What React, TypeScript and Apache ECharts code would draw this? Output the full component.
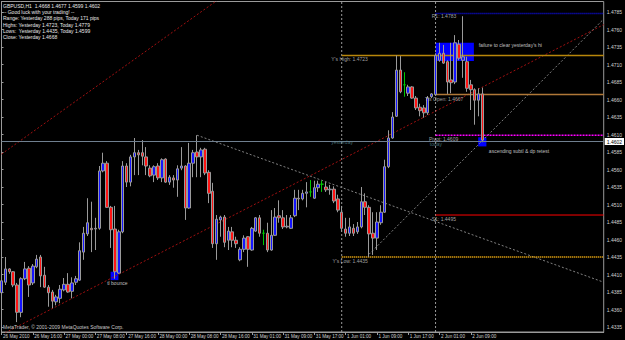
import React, { useEffect, useRef } from 'react';
import * as echarts from 'echarts';

// ---------- data ----------
const tickLabels = ['26 May 2010', '26 May 16:00', '27 May 00:00', '27 May 08:00', '27 May 16:00', '28 May 00:00', '28 May 08:00', '28 May 16:00', '31 May 01:00', '31 May 09:00', '31 May 17:00', '1 Jun 01:00', '1 Jun 09:00', '1 Jun 17:00', '2 Jun 01:00', '2 Jun 09:00'];
const barsPerLabel = 8;
const slotCount = 155;

const open = [1.4384, 1.4399, 1.4418, 1.4414, 1.4395, 1.4356, 1.4404, 1.4419, 1.4398, 1.4421, 1.4435, 1.4409, 1.4392, 1.4385, 1.4371, 1.4376, 1.4388, 1.4396, 1.4386, 1.4399, 1.4402, 1.4442, 1.4468, 1.4476, 1.4475, 1.4476, 1.4558, 1.4569, 1.4506, 1.4475, 1.4412, 1.4471, 1.4565, 1.4542, 1.4578, 1.4584, 1.4584, 1.4578, 1.4562, 1.4552, 1.4565, 1.4548, 1.4575, 1.4542, 1.4548, 1.4545, 1.4562, 1.4565, 1.4505, 1.4569, 1.4585, 1.4578, 1.4589, 1.4556, 1.4529, 1.4454, 1.4488, 1.4492, 1.4459, 1.4471, 1.4459, 1.4431, 1.4446, 1.4464, 1.4445, 1.4472, 1.4491, 1.4469, 1.4469, 1.4445, 1.4466, 1.4494, 1.4491, 1.4478, 1.4476, 1.4494, 1.4519, 1.4518, 1.4526, 1.4528, 1.4519, 1.4534, 1.4539, 1.4535, 1.4531, 1.4532, 1.4518, 1.4499, 1.4475, 1.4469, 1.4476, 1.4471, 1.4478, 1.4514, 1.4506, 1.4469, 1.4462, 1.4484, 1.4499, 1.4564, 1.4605, 1.4636, 1.4702, 1.4681, 1.4669, 1.4678, 1.4662, 1.4649, 1.4648, 1.4641, 1.4664, 1.4667, 1.4716, 1.4726, 1.4714, 1.4688, 1.4685, 1.4739, 1.4716, 1.4714, 1.4681, 1.4674, 1.4659, 1.4668];
const high = [1.4404, 1.4435, 1.4419, 1.4415, 1.4398, 1.4406, 1.4428, 1.4422, 1.4425, 1.4438, 1.4438, 1.4421, 1.4395, 1.4388, 1.4381, 1.4395, 1.4405, 1.4412, 1.4406, 1.4408, 1.4456, 1.4478, 1.4519, 1.4514, 1.4491, 1.4565, 1.4584, 1.4572, 1.4508, 1.4508, 1.4474, 1.4572, 1.4569, 1.4581, 1.4605, 1.4588, 1.4602, 1.4592, 1.4566, 1.4566, 1.4569, 1.4576, 1.4576, 1.4552, 1.4552, 1.4566, 1.4592, 1.4566, 1.4598, 1.4588, 1.4609, 1.4591, 1.4591, 1.4559, 1.4541, 1.4495, 1.4494, 1.4495, 1.4478, 1.4478, 1.4464, 1.4449, 1.4466, 1.4465, 1.4478, 1.4492, 1.4495, 1.4474, 1.4484, 1.4502, 1.4505, 1.4516, 1.4502, 1.4495, 1.4495, 1.4531, 1.4531, 1.4531, 1.4542, 1.4545, 1.4544, 1.4544, 1.4544, 1.4542, 1.4538, 1.4536, 1.4524, 1.4508, 1.4491, 1.4491, 1.4482, 1.4485, 1.4535, 1.4526, 1.4509, 1.4499, 1.4499, 1.4509, 1.4574, 1.4616, 1.4642, 1.4723, 1.4722, 1.4699, 1.4681, 1.4679, 1.4665, 1.4654, 1.4652, 1.4665, 1.4669, 1.4726, 1.4741, 1.4738, 1.4716, 1.4741, 1.4752, 1.4745, 1.4779, 1.4721, 1.4688, 1.4676, 1.4676, 1.4677];
const low = [1.4376, 1.4395, 1.4411, 1.4392, 1.4342, 1.4349, 1.4402, 1.4378, 1.4395, 1.4419, 1.4392, 1.4391, 1.4364, 1.4362, 1.4366, 1.4369, 1.4386, 1.4384, 1.4376, 1.4395, 1.4401, 1.4431, 1.4465, 1.4442, 1.4445, 1.4474, 1.4556, 1.4505, 1.4448, 1.4404, 1.4411, 1.4469, 1.4535, 1.4536, 1.4552, 1.4552, 1.4566, 1.4552, 1.4549, 1.4542, 1.4545, 1.4542, 1.4541, 1.4538, 1.4534, 1.4521, 1.4559, 1.4488, 1.4504, 1.4549, 1.4549, 1.4549, 1.4552, 1.4512, 1.4448, 1.4431, 1.4464, 1.4449, 1.4445, 1.4449, 1.4448, 1.4429, 1.4442, 1.4421, 1.4444, 1.4471, 1.4464, 1.4452, 1.4442, 1.4444, 1.4465, 1.4484, 1.4475, 1.4476, 1.4475, 1.4492, 1.4502, 1.4516, 1.4506, 1.4521, 1.4518, 1.4528, 1.4528, 1.4528, 1.4524, 1.4512, 1.4499, 1.4471, 1.4464, 1.4465, 1.4465, 1.4468, 1.4476, 1.4495, 1.4435, 1.4438, 1.4445, 1.4481, 1.4498, 1.4562, 1.4604, 1.4635, 1.4669, 1.4664, 1.4665, 1.4661, 1.4645, 1.4636, 1.4634, 1.4638, 1.4662, 1.4665, 1.4714, 1.4711, 1.4668, 1.4669, 1.4682, 1.4716, 1.4691, 1.4671, 1.4645, 1.4624, 1.4636, 1.4599];
const close = [1.4401, 1.4418, 1.4414, 1.4395, 1.4356, 1.4404, 1.4418, 1.4395, 1.4422, 1.4432, 1.4408, 1.4392, 1.4384, 1.4372, 1.4378, 1.4389, 1.4396, 1.4385, 1.4398, 1.4404, 1.4444, 1.4469, 1.4484, 1.4474, 1.4476, 1.4558, 1.4569, 1.4506, 1.4474, 1.4414, 1.4471, 1.4565, 1.4542, 1.4578, 1.4584, 1.4581, 1.4579, 1.4565, 1.4551, 1.4564, 1.4548, 1.4574, 1.4542, 1.4549, 1.4545, 1.4561, 1.4565, 1.4505, 1.4569, 1.4584, 1.4578, 1.4588, 1.4555, 1.4526, 1.4454, 1.4489, 1.4492, 1.4456, 1.4472, 1.4459, 1.4454, 1.4446, 1.4462, 1.4446, 1.4476, 1.4491, 1.4469, 1.4469, 1.4445, 1.4466, 1.4492, 1.4491, 1.4478, 1.4479, 1.4491, 1.4519, 1.4518, 1.4526, 1.4528, 1.4528, 1.4534, 1.4539, 1.4539, 1.4531, 1.4532, 1.4515, 1.4502, 1.4476, 1.4469, 1.4478, 1.4469, 1.4478, 1.4514, 1.4506, 1.4468, 1.4462, 1.4485, 1.4499, 1.4564, 1.4605, 1.4635, 1.4702, 1.4671, 1.4681, 1.4678, 1.4662, 1.4648, 1.4644, 1.4641, 1.4662, 1.4668, 1.4723, 1.4726, 1.4712, 1.4685, 1.4684, 1.4741, 1.4719, 1.4721, 1.4676, 1.4674, 1.4659, 1.4668, 1.4602];
const dojiBars = [67, 79, 82, 103];

const priceTicks = [1.4335, 1.4360, 1.4385, 1.4410, 1.4435, 1.4460, 1.4485, 1.4510, 1.4535, 1.4560, 1.4585, 1.4610, 1.4635, 1.4660, 1.4685, 1.4710, 1.4735, 1.4760, 1.4785];
const priceMin = 1.43279;
const priceMax = 1.48;
const bidPrice = 1.4602;

// daily levels: value, first bar
const levelValues = [1.4723, 1.4435, 1.4667, 1.4609, 1.4783, 1.4495];
const levelStartBar = [87, 87, 111, 111, 111, 111];
const separatorBars = [87, 111];

// trendlines [bar, price]
const trendRedLong = [[0, 1.4324], [154, 1.4767]];
const trendRedUpper = [[0, 1.4582], [56, 1.4805]];
const trendGreyDown = [[50, 1.4609], [154, 1.4399]];
const trendGreyUp = [[94, 1.4439], [154, 1.4775]];

// rectangles [barFrom, priceFrom, barTo, priceTo]
const boxes = [[111, 1.4715, 120.8, 1.4741], [121.9, 1.4593, 124, 1.4606], [27.9, 1.4402, 29.9, 1.4414]];

// annotations
const noteTexts = ["Y's High: 1.4723", "Y's Low: 1.4435", "T's Open: 1.4667", 'Pivot: 1.4609', 'today', 'yesterday', 'R1: 1.4783', 'S1: 1.4495', "failure to clear yesterday's hi", 'ascending subtl & dp retest', 'tl bounce'];
const noteBar = [84.2, 84.5, 108.2, 109.2, 109.4, 84.2, 109.9, 109.9, 121.9, 124.5, 26.9];
const notePrice = [1.4718, 1.4430, 1.4661, 1.4604, 1.4597, 1.4599, 1.4779, 1.4490, 1.4738, 1.4587, 1.4398];

const headerLines = ['GBPUSD,H1  1.4668 1.4677 1.4599 1.4602', '-- Good luck with your trading! --', 'Range: Yesterday 288 pips, Today 171 pips', 'Highs: Yesterday 1.4723, Today 1.4779', 'Lows:  Yesterday 1.4435, Today 1.4599', 'Close: Yesterday 1.4668'];
const copyright = 'MetaTrader, \u00a9 2001-2009 MetaQuotes Software Corp.';

// ---------- styles ----------
const FONT = 'Liberation Sans';
const levelStyles = [
  { color: '#b8860b', width: 1.5, type: 'solid' },
  { color: '#e0a010', width: 2, type: [1, 1] },
  { color: '#b07838', width: 1.5, type: 'solid' },
  { color: '#ff00ff', width: 1.5, type: [2, 1] },
  { color: '#1010ff', width: 1.5, type: [1, 1] },
  { color: '#ff0000', width: 1, type: 'solid' },
];
const noteColors = ['#c8c8c8', '#c8c8c8', '#c8c8c8', '#c8c8c8', '#5a8a96', '#5a8a96', '#c8c8c8', '#c8c8c8', '#e8e8e8', '#e8e8e8', '#e8e8e8'];

function buildOption() {
  const categories = Array.from({ length: slotCount }, (_, i) => String(i));
  const isLabelIdx = (i: number) => i % barsPerLabel === 0 && i / barsPerLabel < tickLabels.length;

  const candleData = open.map((o, i) => {
    const item: any = { value: [o, close[i], low[i], high[i]] };
    if (dojiBars.includes(i)) {
      item.itemStyle = { color: '#00c800', color0: '#00c800', borderColor: '#00c800', borderColor0: '#00c800' };
    }
    return item;
  });

  const lineSeries = (data: number[][], color: string, width: number, type: any, z = 3) => ({
    type: 'line',
    xAxisIndex: 1,
    yAxisIndex: 0,
    data,
    symbol: 'none',
    silent: true,
    z,
    lineStyle: { color, width, type },
  });

  const series: any[] = [];

  // rectangles (background)
  series.push({
    type: 'line',
    xAxisIndex: 1,
    yAxisIndex: 0,
    data: [],
    z: 1,
    silent: true,
    markArea: {
      silent: true,
      itemStyle: { color: '#0000ff', opacity: 1 },
      data: boxes.map((b) => [{ coord: [b[0], b[1]] }, { coord: [b[2], b[3]] }]),
    },
  });

  // bid line with price tag
  series.push({
    type: 'line',
    xAxisIndex: 1,
    yAxisIndex: 0,
    data: [],
    z: 2,
    silent: true,
    markLine: {
      silent: true,
      symbol: 'none',
      lineStyle: { color: '#6f7f8f', width: 1, type: 'solid' },
      label: {
        show: true,
        position: 'end',
        distance: 1,
        formatter: bidPrice.toFixed(4),
        backgroundColor: '#ffffff',
        color: '#000000',
        fontSize: 5,
        fontFamily: FONT,
        padding: [1, 2, 1, 2],
      },
      data: [{ yAxis: bidPrice }],
    },
  });

  // separators
  separatorBars.forEach((b) => series.push(lineSeries([[b, priceMin], [b, priceMax]], '#9a9a9a', 1, [2, 2], 2)));

  // trendlines
  series.push(lineSeries(trendRedLong, '#a01010', 1, [2, 2], 2));
  series.push(lineSeries(trendRedUpper, '#a01010', 1, [2, 2], 2));
  series.push(lineSeries(trendGreyDown, '#808080', 1, [2, 2], 2));
  series.push(lineSeries(trendGreyUp, '#808080', 1, [2, 2], 2));

  // levels
  levelValues.forEach((v, i) => {
    const s = levelStyles[i];
    series.push(lineSeries([[levelStartBar[i], v], [slotCount - 1, v]], s.color, s.width, s.type, 2));
  });

  // candles
  series.push({
    type: 'candlestick',
    xAxisIndex: 0,
    yAxisIndex: 0,
    data: candleData,
    barWidth: 3,
    z: 4,
    clip: true,
    silent: true,
    itemStyle: {
      color: '#1414ff',
      color0: '#ff1414',
      borderColor: '#9a9a9a',
      borderColor0: '#9a9a9a',
      borderWidth: 1,
    },
  });

  // annotations
  series.push({
    type: 'scatter',
    xAxisIndex: 1,
    yAxisIndex: 0,
    symbolSize: 1,
    z: 6,
    silent: true,
    itemStyle: { color: 'rgba(0,0,0,0)' },
    data: noteTexts.map((t, i) => ({
      value: [noteBar[i], notePrice[i]],
      label: {
        show: true,
        position: 'right',
        distance: 0,
        formatter: t,
        color: noteColors[i],
        fontSize: 5,
        fontFamily: FONT,
      },
    })),
  });

  return {
    animation: false,
    backgroundColor: '#000000',
    textStyle: { fontFamily: FONT },
    grid: {
      left: 1.5,
      right: 19,
      top: 1.5,
      bottom: 8,
      show: true,
      borderColor: '#9a9a9a',
      borderWidth: 1,
      backgroundColor: '#000000',
    },
    xAxis: [
      {
        type: 'category',
        data: categories,
        boundaryGap: false,
        axisLine: { show: true, lineStyle: { color: '#9a9a9a', width: 1 } },
        axisTick: {
          show: true,
          interval: (i: number) => isLabelIdx(i),
          length: 3,
          lineStyle: { color: '#9a9a9a' },
        },
        axisLabel: {
          show: true,
          interval: (i: number) => isLabelIdx(i),
          formatter: (_v: string, i: number) => (isLabelIdx(i) ? tickLabels[i / barsPerLabel] : ''),
          align: 'left',
          color: '#d0d0d0',
          fontSize: 4.6,
          fontFamily: FONT,
          margin: 1.5,
          padding: [0, 0, 0, 1.5],
        },
        splitLine: { show: false },
      },
      {
        type: 'value',
        min: 0,
        max: slotCount - 1,
        show: false,
        splitLine: { show: false },
      },
    ],
    yAxis: [
      {
        type: 'value',
        position: 'right',
        min: priceMin,
        max: priceMax,
        scale: true,
        axisLine: { show: true, lineStyle: { color: '#9a9a9a', width: 1 } },
        axisTick: { show: true, length: 2, customValues: priceTicks, lineStyle: { color: '#9a9a9a' } },
        axisLabel: {
          show: true,
          customValues: priceTicks,
          formatter: (v: number) => v.toFixed(4),
          color: '#d0d0d0',
          fontSize: 5,
          fontFamily: FONT,
          margin: 3,
        },
        splitLine: { show: false },
      },
    ],
    graphic: [
      {
        type: 'text',
        left: 3,
        top: 2.5,
        z: 10,
        silent: true,
        style: { text: headerLines.join('\n'), fill: '#e8e8e8', font: `5px "${FONT}"`, lineHeight: 6.3 },
      },
      {
        type: 'text',
        left: 3,
        top: 324.5,
        z: 10,
        silent: true,
        style: { text: copyright, fill: '#c8c8c8', font: `5px "${FONT}"` },
      },
    ],
    series,
  };
}

export default function App() {
  const ref = useRef<HTMLDivElement>(null);
  useEffect(() => {
    if (!ref.current) return;
    const chart = echarts.init(ref.current, null, { renderer: 'svg' });
    chart.setOption(buildOption() as any);
    return () => chart.dispose();
  }, []);
  return (
    <div
      ref={ref}
      style={{ position: 'absolute', left: 0, top: 0, width: 625, height: 340, background: '#000' }}
    />
  );
}
